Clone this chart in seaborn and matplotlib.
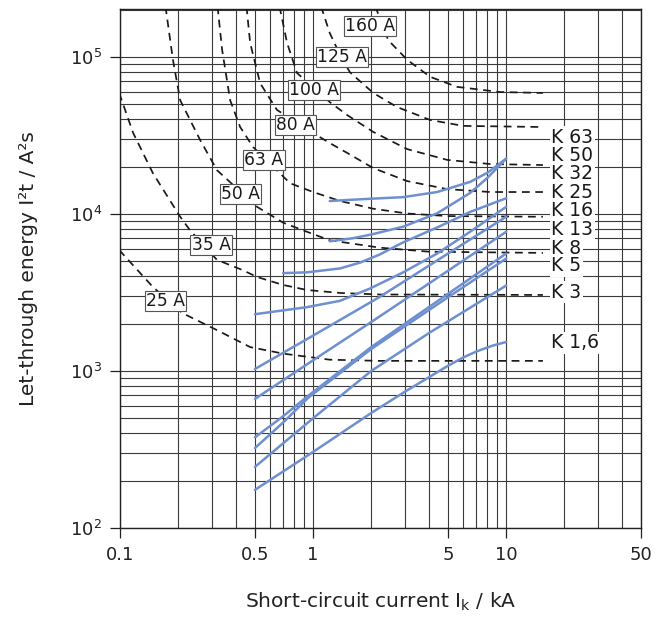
import math
import pandas as pd
import seaborn as sns
import matplotlib.pyplot as plt
from matplotlib.ticker import FixedLocator, FuncFormatter, LogLocator, NullFormatter

sns.set_theme(style="white")
plt.rcParams['font.family'] = ['DejaVu Sans']

# fuse characteristics (dashed), current in kA, let-through energy in A²s
fuse_25_x = [0.099, 0.123, 0.148, 0.21, 0.318, 0.472, 0.70, 1.22, 2.2, 15.5]
fuse_25_y = [5.9e3, 4.4e3, 3.43e3, 2.34e3, 1.82e3, 1.42e3, 1.29e3, 1.18e3, 1.16e3, 1.16e3]
fuse_35_x = [0.099, 0.117, 0.148, 0.205, 0.23, 0.318, 0.43, 0.513, 0.70, 0.93, 1.38, 2.22, 15.5]
fuse_35_y = [5.9e4, 3.28e4, 1.82e4, 9.6e3, 7.9e3, 5.1e3, 4.4e3, 3.97e3, 3.53e3, 3.28e3, 3.14e3, 3.07e3, 3.05e3]
fuse_50_x = [0.172, 0.188, 0.205, 0.26, 0.318, 0.513, 0.70, 0.93, 1.22, 2.22, 4.0, 15.5]
fuse_50_y = [2.1e5, 9.6e4, 5.3e4, 2.96e4, 1.9e4, 1.11e4, 8.8e3, 7.7e3, 6.8e3, 6.1e3, 5.75e3, 5.65e3]
fuse_63_x = [0.32, 0.338, 0.372, 0.419, 0.489, 0.76, 1.0, 1.38, 2.05, 3.07, 4.95, 15.5]
fuse_63_y = [2.1e5, 1.11e5, 5.3e4, 3.58e4, 2.67e4, 1.57e4, 1.38e4, 1.21e4, 1.08e4, 1.007e4, 9.7e3, 9.6e3]
fuse_80_x = [0.452, 0.472, 0.532, 0.65, 1.0, 1.22, 1.5, 2.05, 3.07, 4.95, 8.27, 15.5]
fuse_80_y = [2.1e5, 1.23e5, 6.8e4, 4.6e4, 3.28e4, 2.83e4, 2.45e4, 1.96e4, 1.62e4, 1.44e4, 1.38e4, 1.38e4]
fuse_100_x = [0.67, 0.733, 0.826, 1.22, 1.5, 2.05, 3.07, 4.95, 8.27, 15.5]
fuse_100_y = [2.1e5, 1.23e5, 7.9e4, 5.16e4, 4.27e4, 3.33e4, 2.59e4, 2.21e4, 2.08e4, 2.05e4]
fuse_125_x = [1.10, 1.22, 1.38, 1.55, 2.05, 2.72, 4.04, 5.98, 15.5]
fuse_125_y = [2.1e5, 1.42e5, 1.03e5, 8.0e4, 5.9e4, 4.8e4, 3.97e4, 3.64e4, 3.58e4]
fuse_160_x = [2.1, 2.45, 3.07, 4.04, 5.57, 9.3, 15.5]
fuse_160_y = [2.1e5, 1.28e5, 9.6e4, 7.47e4, 6.45e4, 5.98e4, 5.9e4]

fuse_names = ["25 A", "35 A", "50 A", "63 A", "80 A", "100 A", "125 A", "160 A"]
fuse_label_x = [0.173, 0.296, 0.419, 0.557, 0.807, 1.01, 1.41, 1.97]
fuse_label_y = [2.79e3, 6.35e3, 1.34e4, 2.21e4, 3.69e4, 6.16e4, 1.0e5, 1.57e5]

# K-characteristic breakers (blue)
k_1_6_x = [0.5, 1, 2, 3, 5, 6, 7, 8.5, 10]
k_1_6_y = [175, 305, 540, 740, 1080, 1220, 1330, 1450, 1530]
k_3_x = [0.5, 1, 2, 4, 10]
k_3_y = [245, 500, 1.0e3, 1.75e3, 3.5e3]
k_5_x = [0.5, 0.7, 0.95, 2, 5, 10]
k_5_y = [323, 470, 680, 1.38e3, 2.95e3, 5.2e3]
k_8_x = [0.5, 0.7, 0.95, 2, 5, 10]
k_8_y = [378, 515, 700, 1.42e3, 3.1e3, 5.6e3]
k_13_x = [0.5, 1, 2, 5, 10]
k_13_y = [664, 1.17e3, 2.05e3, 4.35e3, 7.7e3]
k_16_x = [0.5, 1, 2.2, 5, 10]
k_16_y = [1.03e3, 1.68e3, 2.95e3, 5.6e3, 9.6e3]
k_25_x = [0.5, 0.93, 1.38, 1.97, 2.93, 4.39, 6.5, 10]
k_25_y = [2.3e3, 2.55e3, 2.8e3, 3.35e3, 4.25e3, 5.6e3, 7.7e3, 1.11e4]
k_32_x = [0.70, 0.93, 1.38, 1.75, 2.2, 2.93, 4.39, 6.5, 10]
k_32_y = [4.2e3, 4.25e3, 4.5e3, 4.9e3, 5.5e3, 6.6e3, 8.2e3, 1.03e4, 1.26e4]
k_50_x = [1.22, 1.6, 2.0, 2.93, 4.39, 6.5, 8, 10]
k_50_y = [6.7e3, 7.0e3, 7.4e3, 8.3e3, 1.01e4, 1.36e4, 1.7e4, 2.25e4]
k_63_x = [1.22, 1.97, 2.93, 4.39, 6.5, 8, 10]
k_63_y = [1.21e4, 1.25e4, 1.28e4, 1.38e4, 1.6e4, 1.83e4, 2.25e4]

k_names = ["K 63", "K 50", "K 32", "K 25", "K 16", "K 13", "K 8", "K 5", "K 3", "K 1,6"]
k_label_y = [3.09e4, 2.37e4, 1.80e4, 1.38e4, 1.045e4, 8.0e3, 6.07e3, 4.67e3, 3.18e3, 1.51e3]

x_ticks = [0.1, 0.5, 1, 5, 10, 50]
x_ticklabels = ["0.1", "0.5", "1", "5", "10", "50"]

fuse_data = [(fuse_25_x, fuse_25_y), (fuse_35_x, fuse_35_y), (fuse_50_x, fuse_50_y),
             (fuse_63_x, fuse_63_y), (fuse_80_x, fuse_80_y), (fuse_100_x, fuse_100_y),
             (fuse_125_x, fuse_125_y), (fuse_160_x, fuse_160_y)]
k_data = [(k_1_6_x, k_1_6_y), (k_3_x, k_3_y), (k_5_x, k_5_y), (k_8_x, k_8_y),
          (k_13_x, k_13_y), (k_16_x, k_16_y), (k_25_x, k_25_y), (k_32_x, k_32_y),
          (k_50_x, k_50_y), (k_63_x, k_63_y)]

rows = []
for i, (xs, ys) in enumerate(fuse_data):
    rows += [("fuse", fuse_names[i], x, y) for x, y in zip(xs, ys)]
for i, (xs, ys) in enumerate(k_data):
    rows += [("mcb", k_names[::-1][i], x, y) for x, y in zip(xs, ys)]
df = pd.DataFrame(rows, columns=["kind", "series", "I", "E"])

fig = plt.figure(figsize=(6.63, 6.23), dpi=100)
ax = fig.add_axes([0.181, 0.1525, 0.786, 0.833])
ax.set_xscale("log")
ax.set_yscale("log")

for (kind, name), d in df.groupby(["kind", "series"], sort=False):
    if kind == "fuse":
        sns.lineplot(data=d, x="I", y="E", ax=ax, color="#1a1a1a", lw=1.25,
                     linestyle=(0, (4.5, 3.2)), estimator=None, sort=False, zorder=3)
    else:
        sns.lineplot(data=d, x="I", y="E", ax=ax, color="#6e8fd0", lw=1.8,
                     estimator=None, sort=False, zorder=4)

ax.set_xlim(0.1, 50)
ax.set_ylim(100, 2.02e5)

ax.xaxis.set_major_locator(FixedLocator(x_ticks))
ax.xaxis.set_major_formatter(FuncFormatter(lambda v, p: x_ticklabels[x_ticks.index(v)] if v in x_ticks else ""))
ax.xaxis.set_minor_locator(LogLocator(base=10, subs=range(1, 10), numticks=20))
ax.xaxis.set_minor_formatter(NullFormatter())
ax.yaxis.set_major_locator(LogLocator(base=10, numticks=10))
ax.yaxis.set_major_formatter(FuncFormatter(lambda v, p: r"$\mathregular{10^{%d}}$" % round(math.log10(v))))
ax.yaxis.set_minor_locator(LogLocator(base=10, subs=range(2, 10), numticks=20))
ax.yaxis.set_minor_formatter(NullFormatter())

ax.set_axisbelow(True)
ax.grid(which="both", color="#3a3a3a", lw=0.8)
ax.tick_params(which="major", direction="out", length=7, width=0.9, color="#222222",
               labelsize=13, labelcolor="#222222", pad=6, bottom=True, left=True)
ax.tick_params(which="minor", length=0)
for s in ax.spines.values():
    s.set_color("#222222")
    s.set_linewidth(1.0)

for name, lx, ly in zip(fuse_names, fuse_label_x, fuse_label_y):
    ax.text(lx, ly, name, ha="center", va="center", fontsize=12.3, color="#1a1a1a", zorder=6,
            bbox=dict(boxstyle="square,pad=0.06", fc="white", ec="#555555", lw=0.8))

for name, ly in zip(k_names, k_label_y):
    ax.text(17.1, ly, name, ha="left", va="center", fontsize=13.5, color="#1a1a1a", zorder=6,
            bbox=dict(boxstyle="square,pad=0.08", fc="white", ec="none"))

ax.set_xlabel("Short-circuit current I$_\\mathregular{k}$ / kA", fontsize=14.5, color="#222222")
ax.set_ylabel("Let-through energy I²t / A²s", fontsize=14.5, color="#222222")
ax.xaxis.set_label_coords(0.5, -0.12)
ax.yaxis.set_label_coords(-0.157, 0.5)

fig.savefig("out.png", dpi=100)
